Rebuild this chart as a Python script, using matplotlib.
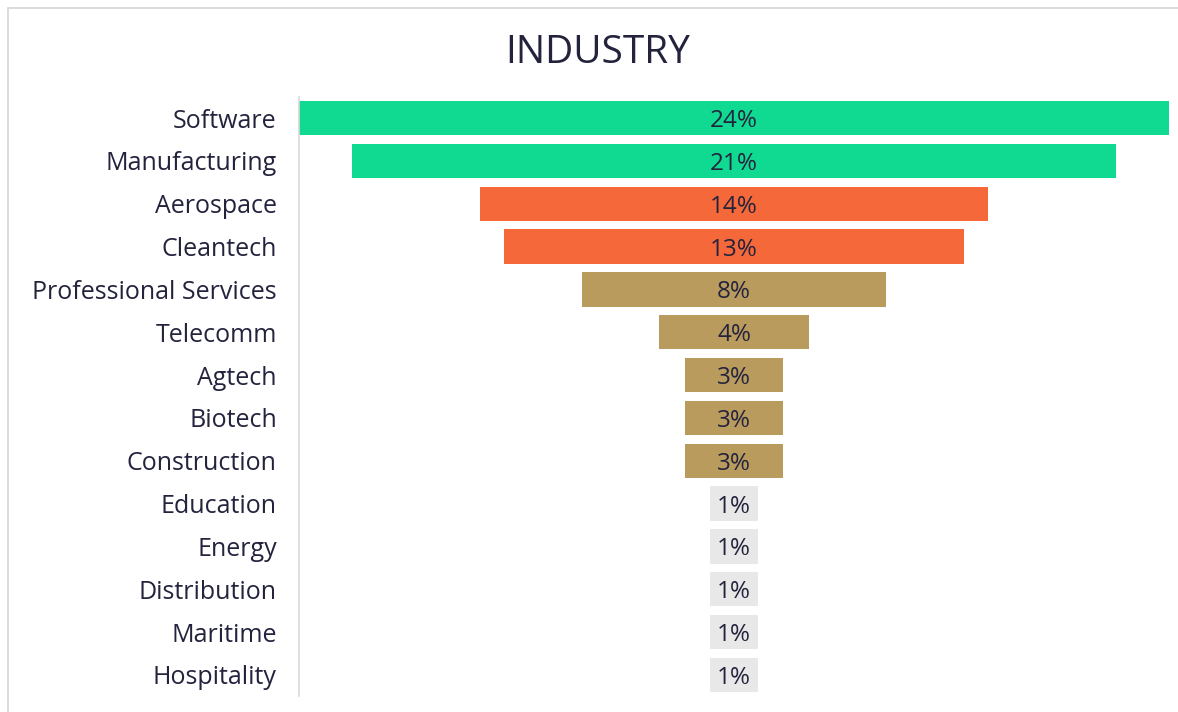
import matplotlib
matplotlib.use("Agg")
import matplotlib.pyplot as plt
from matplotlib.patches import Rectangle

categories = ["Software", "Manufacturing", "Aerospace", "Cleantech", "Professional Services",
              "Telecomm", "Agtech", "Biotech", "Construction", "Education", "Energy",
              "Distribution", "Maritime", "Hospitality"]
values = [24.0, 21.1, 14.0, 12.7, 8.4, 4.15, 2.7, 2.7, 2.7, 1.3, 1.3, 1.3, 1.3, 1.3]
labels = ["24%", "21%", "14%", "13%", "8%", "4%", "3%", "3%", "3%", "1%", "1%", "1%", "1%", "1%"]
colors = ["#10d991", "#10d991", "#f4683a", "#f4683a", "#ba9b5e", "#ba9b5e", "#ba9b5e",
          "#ba9b5e", "#ba9b5e", "#e8e8e8", "#e8e8e8", "#e8e8e8", "#e8e8e8", "#e8e8e8"]

plt.rcParams['font.family'] = ['Open Sans', 'DejaVu Sans']
txt = "#23233d"

W, H = 1178, 712
fig = plt.figure(figsize=(W / 100, H / 100), dpi=100)
fig.patch.set_facecolor("white")
fig.add_artist(Rectangle((8 / W, -0.01), 1.1, (H - 8) / H + 0.01, transform=fig.transFigure,
                         fill=False, edgecolor="#d6d6d6", linewidth=1.2))

left, right = 299, 1169
top, bottom = 96.6, 696.4
ax = fig.add_axes([left / W, 1 - bottom / H, (right - left) / W, (bottom - top) / H])
n = len(categories)
ypos = list(range(n))
lefts = [-v / 2 for v in values]
ax.barh(ypos, values, left=lefts, height=0.8, color=colors)
for y, lab in zip(ypos, labels):
    ax.text(0, y, lab, ha="center", va="center_baseline", fontsize=17.5, color=txt)
ax.set_xlim(-12.0, 12.0)
ax.set_ylim(n - 0.5, -0.5)
ax.set_yticks(ypos)
ax.set_yticklabels(categories, fontsize=18, color=txt)
ax.tick_params(axis="y", length=0, pad=16)
ax.set_xticks([])
for s in ["top", "right", "bottom"]:
    ax.spines[s].set_visible(False)
ax.spines["left"].set_color("#d9d9d9")
ax.spines["left"].set_linewidth(1.2)

fig.text(598 / W, 1 - 53 / H, "INDUSTRY", ha="center", va="center", fontsize=28, color=txt)

fig.savefig("out.png", dpi=100)
